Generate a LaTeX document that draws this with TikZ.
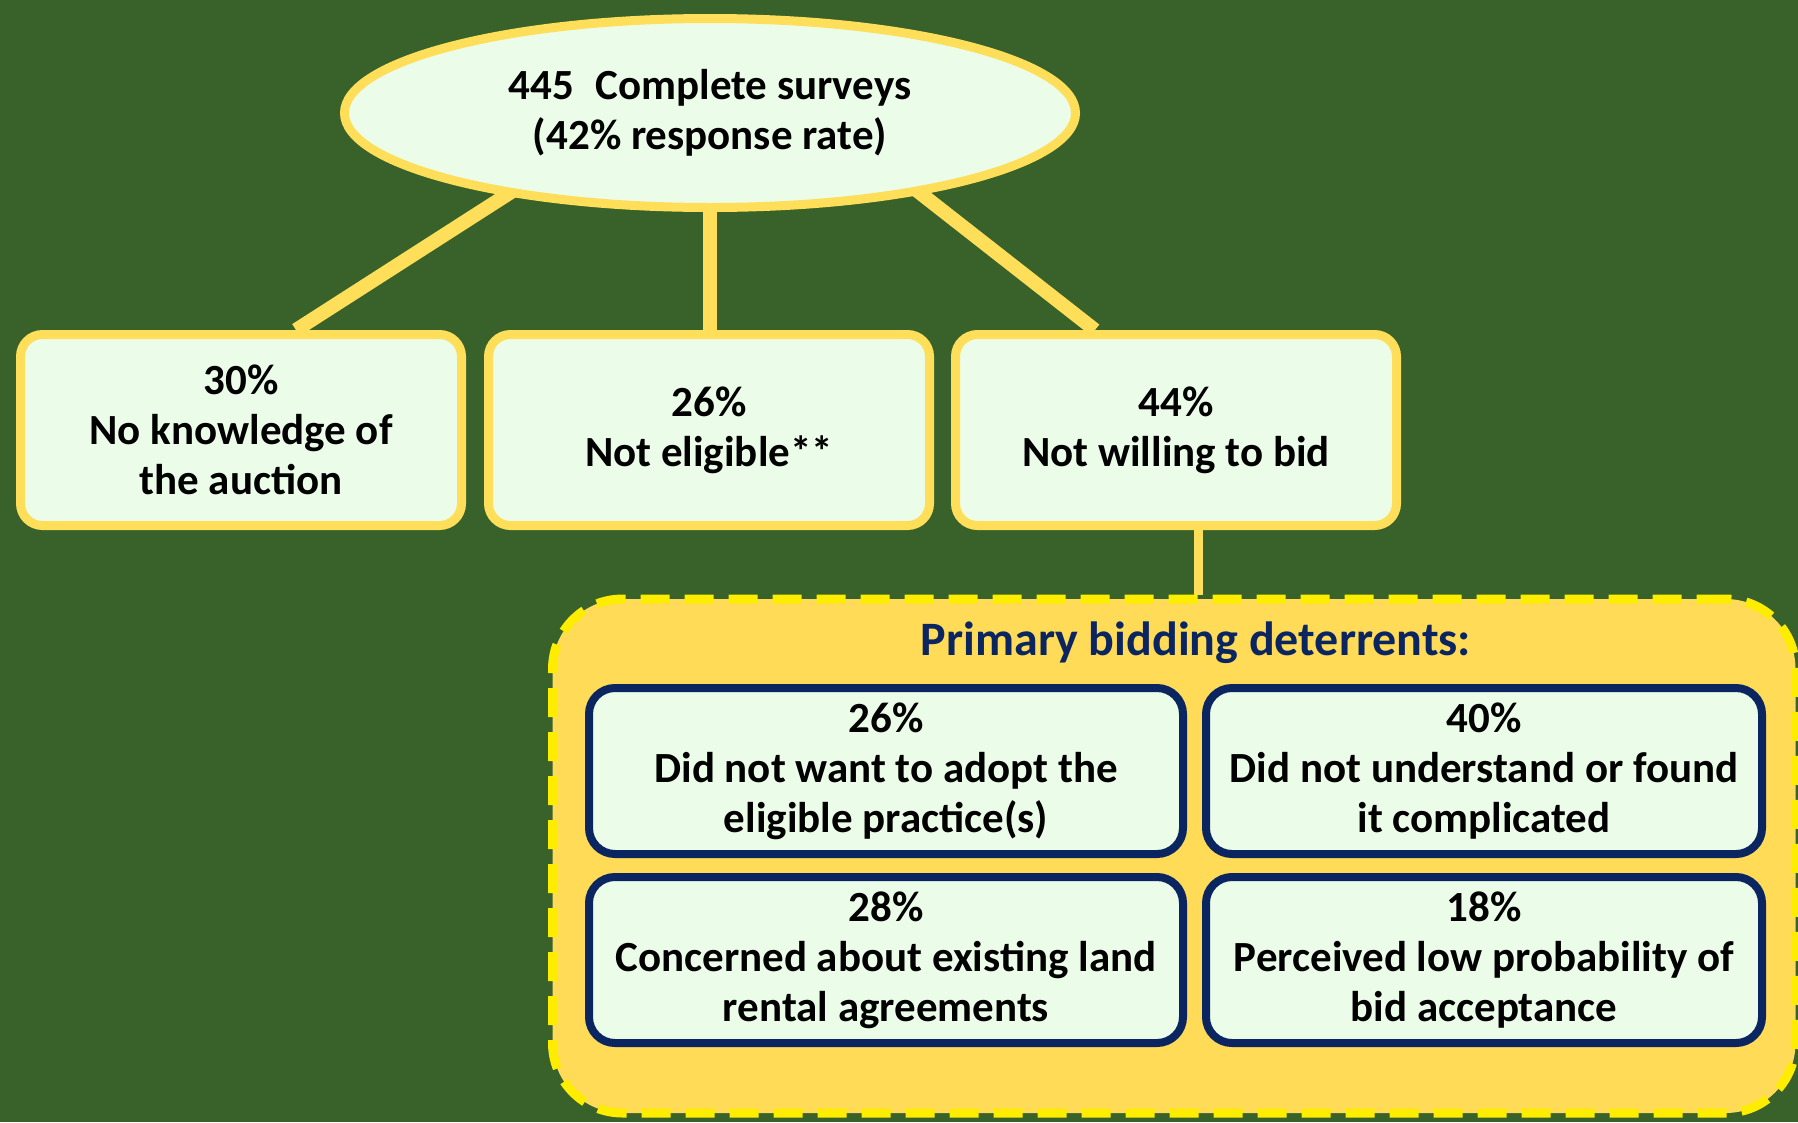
\documentclass[tikz,border=0pt]{standalone}
\usepackage{fontspec}
\setmainfont{Carlito}
\usetikzlibrary{shapes.geometric,calc,backgrounds}

\definecolor{bggreen}{RGB}{56,98,41}
\definecolor{gold}{RGB}{255,219,88}
\definecolor{goldline}{RGB}{255,222,89}
\definecolor{dashyellow}{RGB}{255,237,0}
\definecolor{mint}{RGB}{235,253,233}
\definecolor{navy}{RGB}{11,37,97}

\tikzset{
  txt/.style={font=\fontsize{43}{50}\selectfont\bfseries, align=center, text=black},
  topbox/.style={txt, draw=goldline, line width=9pt, fill=mint, rounded corners=22pt,
    minimum width=441pt, minimum height=191pt, inner sep=0pt},
  subbox/.style={txt, draw=navy, line width=8pt, fill=mint, rounded corners=26pt,
    minimum height=166pt, inner sep=0pt},
  link/.style={draw=goldline, line width=14pt, shorten <=-12pt},
  thinlink/.style={draw=goldline, line width=9pt},
}

\begin{document}
\begin{tikzpicture}[x=1pt, y=-1pt]
\useasboundingbox (0,0) rectangle (1798,1122);
\clip (0,0) rectangle (1798,1122);

% summary ellipse and the three response groups
\node[ellipse, txt, draw=goldline, line width=9pt, fill=mint,
      minimum width=731pt, minimum height=189pt, inner sep=0pt] (ell) at (710,113)
  {445\enspace Complete surveys\\(42\%\ response rate)};

\node[topbox] (b1) at (241,430) {30\%\\No knowledge of\\the auction};
\node[topbox] (b2) at (709,430) {26\%\\Not eligible**};
\node[topbox] (b3) at (1176,430) {44\%\\Not willing to bid};

% deterrents panel
\node[draw=dashyellow, fill=gold, line width=9pt, dash pattern=on 29pt off 15pt,
      rounded corners=70pt, minimum width=1243pt, minimum height=514pt, inner sep=0pt]
  (panel) at (1174,856) {};

\node[font=\fontsize{48}{56}\selectfont\bfseries, text=navy, inner sep=0pt]
  (title) at (1196,643) {Primary bidding deterrents:};

\node[subbox, minimum width=594pt] (d1) at (886,771)
  {26\%\\Did not want to adopt the\\eligible practice(s)};
\node[subbox, minimum width=556pt] (d2) at (1484,771)
  {40\%\\Did not understand or found\\it complicated};
\node[subbox, minimum width=594pt] (d3) at (886,960)
  {28\%\\Concerned about existing land\\rental agreements};
\node[subbox, minimum width=556pt] (d4) at (1484,960)
  {18\%\\Perceived low probability of\\bid acceptance};

% background and connectors behind the nodes
\begin{scope}[on background layer]
  \fill[bggreen] (0,0) rectangle (1798,1122);
  \draw[link] (ell.202) -- ($(b1.north)+(55,0)$);
  \draw[link] (ell.south) -- (ell.south |- b2.north);
  \draw[link] (ell.339) -- ($(b3.north)+(-81,0)$);
  \coordinate (drop) at ($(b3.south)+(22,0)$);
  \draw[thinlink] (drop) -- (drop |- panel.north);
\end{scope}
\end{tikzpicture}
\end{document}
